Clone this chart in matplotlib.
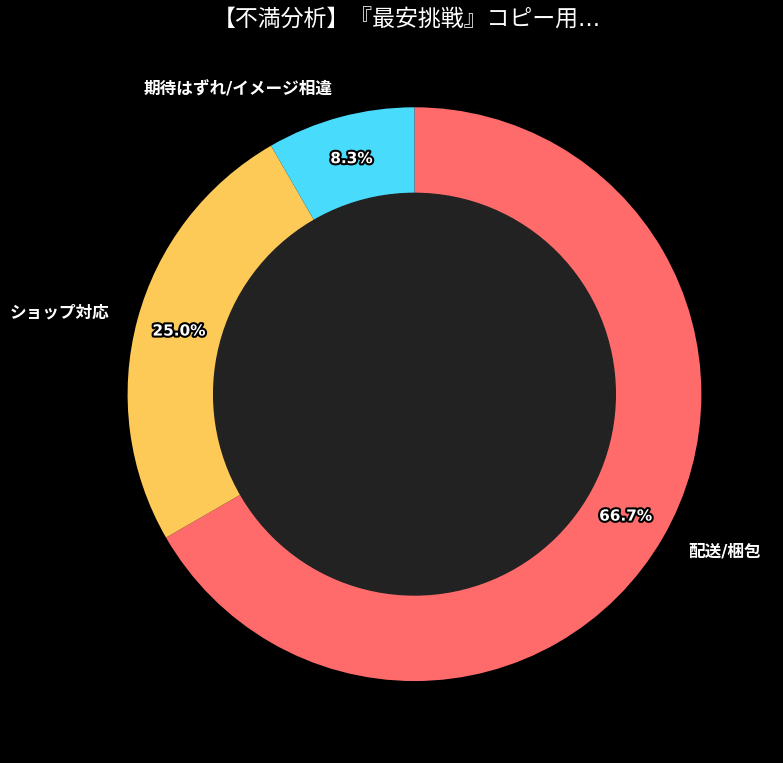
import matplotlib
matplotlib.use("Agg")
import matplotlib.pyplot as plt
import matplotlib.patheffects as pe

# Latin glyphs from DejaVu, Japanese falls through to Noto CJK
plt.rcParams['font.family'] = ['DejaVu Sans', 'Noto Sans CJK JP']

# data
labels = ['配送/梱包', 'ショップ対応', '期待はずれ/イメージ相違']
counts = [8, 3, 1]
colors = ['#FF6B6B', '#FECA57', '#48DBFB']
title = '【不満分析】『最安挑戦』コピー用...'

fig = plt.figure(figsize=(7.83, 7.63), dpi=100, facecolor='black')
ax = fig.add_axes([0.0712, 0.0134, 0.9163, 0.940])
ax.set_facecolor('black')

wedges, texts, autotexts = ax.pie(
    counts, labels=labels, colors=colors, autopct='%1.1f%%',
    startangle=90, counterclock=False, pctdistance=0.85, labeldistance=1.1,
    textprops={'color': 'white', 'fontsize': 12, 'fontweight': 'bold'},
)
for t in autotexts:
    t.set_fontsize(11)
    t.set_path_effects([pe.withStroke(linewidth=3, foreground='black')])

centre = plt.Circle((0, 0), 0.70, color='#222222')
ax.add_artist(centre)
ax.set_aspect('equal')

fig.text(0.52, 0.974, title, color='white', fontsize=16.5, ha='center', va='center')

fig.savefig('out.png', dpi=100, facecolor='black')
